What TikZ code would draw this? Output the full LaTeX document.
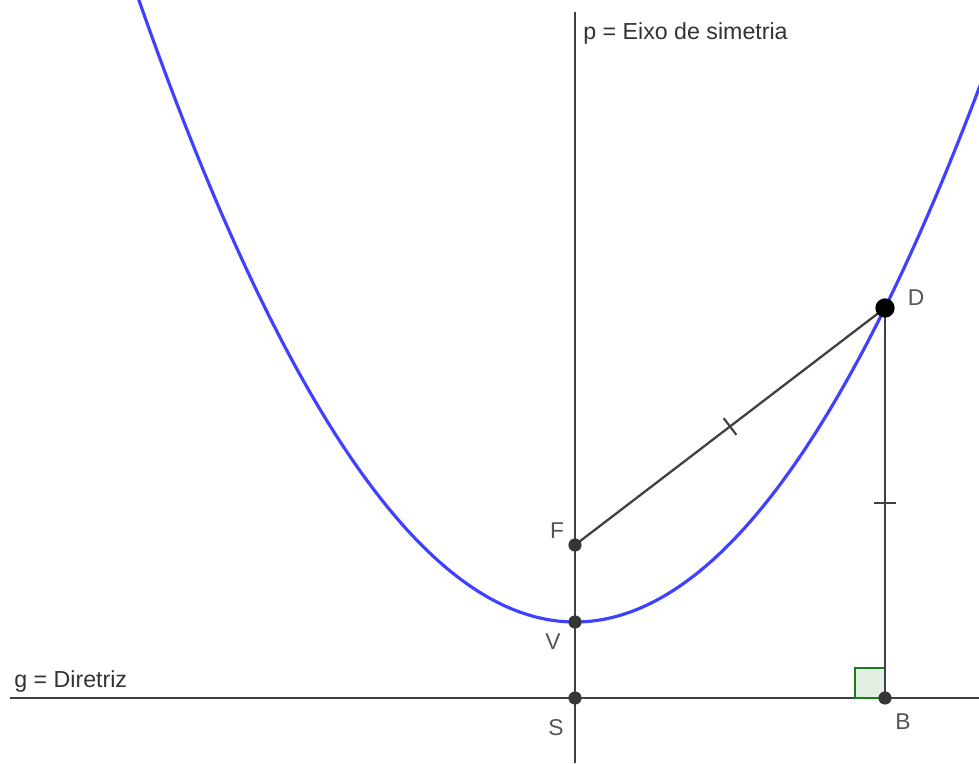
\documentclass[tikz,border=0pt]{standalone}
\usepackage{fontspec}
\setmainfont{Liberation Sans}
\usetikzlibrary{calc,positioning}
\definecolor{linegray}{HTML}{404040}
\definecolor{labelgray}{HTML}{555555}
\definecolor{curveblue}{HTML}{4040FF}
\definecolor{anglegreen}{HTML}{1E7A1E}
\tikzset{
    geoline/.style={draw=linegray, line width=1.3pt},
    curve/.style={draw=curveblue, line width=1.8pt},
    tickmark/.style={draw=linegray, line width=1.2pt},
    dotpt/.style={circle, fill=linegray!85!black, inner sep=0pt, minimum size=7.5pt},
    bigpt/.style={circle, fill=black, inner sep=0pt, minimum size=11pt},
    ptlabel/.style={text=labelgray, font=\fontsize{13}{15}\selectfont, inner sep=0pt},
    linelabel/.style={text=linegray!80!black, font=\fontsize{13.2}{15}\selectfont, inner sep=0pt, anchor=west}
}

\begin{document}
\begin{tikzpicture}[x=0.02cm, y=-0.02cm]
\useasboundingbox (0,0) rectangle (979,763);
\begin{scope}
\clip (0,0) rectangle (979,763);
% points of the construction
\coordinate (V) at (575,622);
\coordinate (F) at (575,545);
\coordinate (S) at (575,698);
\coordinate (D) at (885,308);
\coordinate (B) at (885,698);
\coordinate (ptop) at (575,12);
\coordinate (pbot) at (575,763);
\coordinate (gleft) at (10,698);
\coordinate (gright) at (979,698);
% axis and directrix
\draw[geoline] (ptop) -- (pbot);
\draw[geoline] (gleft) -- (gright);
% right angle at B
\draw[draw=anglegreen, fill=anglegreen!12, line width=1pt] (B) rectangle ++(-30,-30);
% parabola
\draw[curve, domain=-4.4:4.4, samples=120, smooth] plot ({575+100*\x}, {622-32.7*\x*\x});
% segments
\draw[geoline] (F) -- (D);
\draw[geoline] (D) -- (B);
% equal lengths
\coordinate (mFD) at ($(F)!0.5!(D)$);
\coordinate (mDB) at ($(D)!0.5!(B)$);
\draw[tickmark] ($(mFD)!6pt!90:(D)$) -- ($(mFD)!6pt!-90:(D)$);
\draw[tickmark] ($(mDB)!6pt!90:(B)$) -- ($(mDB)!6pt!-90:(B)$);
\end{scope}
% points
\node[dotpt] (Fp) at (F) {};
\node[dotpt] (Vp) at (V) {};
\node[dotpt] (Sp) at (S) {};
\node[dotpt] (Bp) at (B) {};
\node[bigpt] (Dp) at (D) {};
% labels
\node[ptlabel] (Flab) at (557,531) {F};
\node[ptlabel] (Vlab) at (553,642) {V};
\node[ptlabel] (Slab) at (556,728) {S};
\node[ptlabel] (Dlab) at (916,298) {D};
\node[ptlabel] (Blab) at (903,722) {B};
\node[linelabel] (plab) at (583,34) {p = Eixo de simetria};
\node[linelabel] (glab) at (14,681) {g = Diretriz};
\end{tikzpicture}
\end{document}
